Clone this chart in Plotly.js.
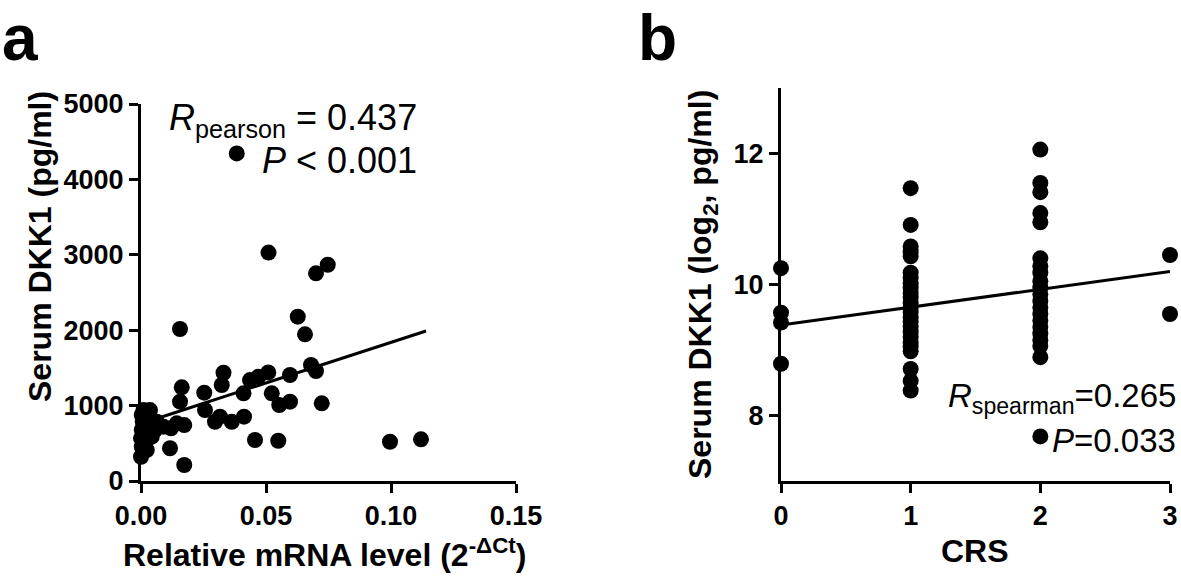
<!DOCTYPE html>
<html><head><meta charset="utf-8">
<script src="https://cdn.plot.ly/plotly-3.0.1.min.js"></script>
<style>html,body{margin:0;padding:0;background:#fff}#chart{width:1181px;height:583px}</style>
</head><body><div id="chart"></div><script>
// Panel a: relative mRNA level vs serum DKK1
var mrnaX = [0.0383,0.051,0.070,0.0747,0.0627,0.0656,0.068,0.070,0.0596,0.0509,0.047,0.0436,0.041,0.0523,0.0553,0.0596,0.0723,0.0412,0.0456,0.0549,0.0996,0.112,
  0.0156,0.0163,0.0156,0.0253,0.033,0.0323,0.0256,0.0296,0.0316,0.0363,0.0173,0.012,0.0116,0.0173,
  0.001,0.0036,0.0003,0.0007,0.0033,0.0063,0.009,0.0143,0.0003,0.003,0.0056,0.000,0.0023,0.0043,0.0003,0.0023,0.000];
var dkk1A = [4345,3030,2754,2868,2179,1945,1538,1459,1406,1440,1383,1339,1163,1163,1008,1052,1030,853,544,534,521,553,
  2016,1242,1052,1171,1436,1273,941,786,853,786,742,698,434,212,
  941,941,875,786,765,786,720,765,676,654,676,566,544,588,455,411,322];
var fitAx = [0, 0.114];
var fitAy = [760, 1990];
var xTicksA = [0, 0.05, 0.10, 0.15];
var xTickTextA = ['0.00','0.05','0.10','0.15'];
var yTicksA = [0, 1000, 2000, 3000, 4000, 5000];

// Panel b: CRS vs log2 serum DKK1
var crsGroups = [0, 1, 2, 3];
var crs0 = [10.25, 9.57, 9.42, 8.79];
var crs1 = [11.47, 10.91, 10.58, 10.50, 10.43, 10.18, 10.10, 10.02, 9.95, 9.87, 9.80, 9.72, 9.65, 9.58, 9.50, 9.43, 9.36, 9.28, 9.20, 9.12, 9.05, 8.98, 8.71, 8.53, 8.38];
var crs2 = [12.06, 11.55, 11.41, 11.09, 10.95, 10.40, 10.28, 10.18, 10.05, 9.95, 9.85, 9.75, 9.65, 9.55, 9.45, 9.35, 9.25, 9.15, 9.06, 8.89, 7.68];
var crs3 = [10.45, 9.55];
var fitBx = [0, 3];
var fitBy = [9.38, 10.20];
var yTicksB = [8, 10, 12];
var xTicksB = [0, 1, 2, 3];

var W = 1181, H = 583;
function px(x){ return x / W; }
function py(y){ return 1 - y / H; }

var bX = [], bY = [];
[crs0, crs1, crs2, crs3].forEach(function(arr, i){
  arr.forEach(function(v){ bX.push(crsGroups[i]); bY.push(v); });
});

var marker = {size: 16, color: '#000'};
var traces = [
  {x: mrnaX, y: dkk1A, type: 'scatter', mode: 'markers', marker: marker, cliponaxis: false, xaxis: 'x', yaxis: 'y'},
  {x: fitAx, y: fitAy, type: 'scatter', mode: 'lines', line: {color: '#000', width: 3}, cliponaxis: false, xaxis: 'x', yaxis: 'y'},
  {x: bX, y: bY, type: 'scatter', mode: 'markers', marker: marker, cliponaxis: false, xaxis: 'x2', yaxis: 'y2'},
  {x: fitBx, y: fitBy, type: 'scatter', mode: 'lines', line: {color: '#000', width: 3}, cliponaxis: false, xaxis: 'x2', yaxis: 'y2'}
];

var FF = 'Liberation Sans, Arial, sans-serif';
var tickFont = {family: FF, size: 27, color: '#000', weight: 'bold'};
var axBase = {showline: true, linewidth: 3, linecolor: '#000', ticks: 'outside', ticklen: 9, tickwidth: 3, tickcolor: '#000',
  showgrid: false, zeroline: false, tickfont: tickFont, fixedrange: true, automargin: false};

function ax(o){ var r = {}; for (var k in axBase) r[k] = axBase[k]; for (var k2 in o) r[k2] = o[k2]; return r; }

var titleFont = {family: FF, size: 32, color: '#000', weight: 'bold'};

var layout = {
  width: W, height: H,
  margin: {l: 0, r: 0, t: 0, b: 0},
  paper_bgcolor: '#fff', plot_bgcolor: 'rgba(0,0,0,0)',
  showlegend: false,
  font: {family: FF, color: '#000', size: 27},
  xaxis: ax({domain: [px(141), px(516)], range: [0, 0.15], tickmode: 'array', tickvals: xTicksA, ticktext: xTickTextA, anchor: 'y'}),
  yaxis: ax({domain: [py(481), py(104)], range: [0, 5000], tickmode: 'array', tickvals: yTicksA, anchor: 'x'}),
  xaxis2: ax({domain: [px(781), px(1170)], range: [0, 3], tickmode: 'array', tickvals: xTicksB, anchor: 'y2'}),
  yaxis2: ax({domain: [py(481), py(88)], range: [7, 13], tickmode: 'array', tickvals: yTicksB, anchor: 'x2'}),
  annotations: [
    {text: 'a', xref: 'paper', yref: 'paper', x: px(0), y: py(0), xanchor: 'left', yanchor: 'top', showarrow: false, font: {family: FF, size: 64, color: '#000', weight: 'bold'}},
    {text: 'b', xref: 'paper', yref: 'paper', x: px(636), y: py(0), xanchor: 'left', yanchor: 'top', showarrow: false, font: {family: FF, size: 64, color: '#000', weight: 'bold'}},
    {text: 'Serum DKK1 (pg/ml)', xref: 'paper', yref: 'paper', x: px(40), y: py(247), textangle: -90, xanchor: 'center', yanchor: 'middle', showarrow: false, font: titleFont},
    {text: 'Relative mRNA level (2<sup>-ΔCt</sup>)', xref: 'paper', yref: 'paper', x: px(324), y: py(553), xanchor: 'center', yanchor: 'middle', showarrow: false, font: titleFont},
    {text: 'Serum DKK1 (log<sub>2</sub>, pg/ml)', xref: 'paper', yref: 'paper', x: px(702), y: py(285), textangle: -90, xanchor: 'center', yanchor: 'middle', showarrow: false, font: titleFont},
    {text: 'CRS', xref: 'paper', yref: 'paper', x: px(975), y: py(551), xanchor: 'center', yanchor: 'middle', showarrow: false, font: titleFont},
    {text: '<i>R</i><sub>pearson</sub> = 0.437', xref: 'paper', yref: 'paper', x: px(419), y: py(120), xanchor: 'right', yanchor: 'middle', showarrow: false, font: {family: FF, size: 36, color: '#000'}},
    {text: '<i>P</i> < 0.001', xref: 'paper', yref: 'paper', x: px(419), y: py(160), xanchor: 'right', yanchor: 'middle', showarrow: false, font: {family: FF, size: 36, color: '#000'}},
    {text: '<i>R</i><sub>spearman</sub>=0.265', xref: 'paper', yref: 'paper', x: px(1178), y: py(398), xanchor: 'right', yanchor: 'middle', showarrow: false, font: {family: FF, size: 33, color: '#000'}},
    {text: '<i>P</i>=0.033', xref: 'paper', yref: 'paper', x: px(1178), y: py(440), xanchor: 'right', yanchor: 'middle', showarrow: false, font: {family: FF, size: 33, color: '#000'}}
  ]
};

Plotly.newPlot('chart', traces, layout, {displayModeBar: false, staticPlot: true});
</script></body></html>
